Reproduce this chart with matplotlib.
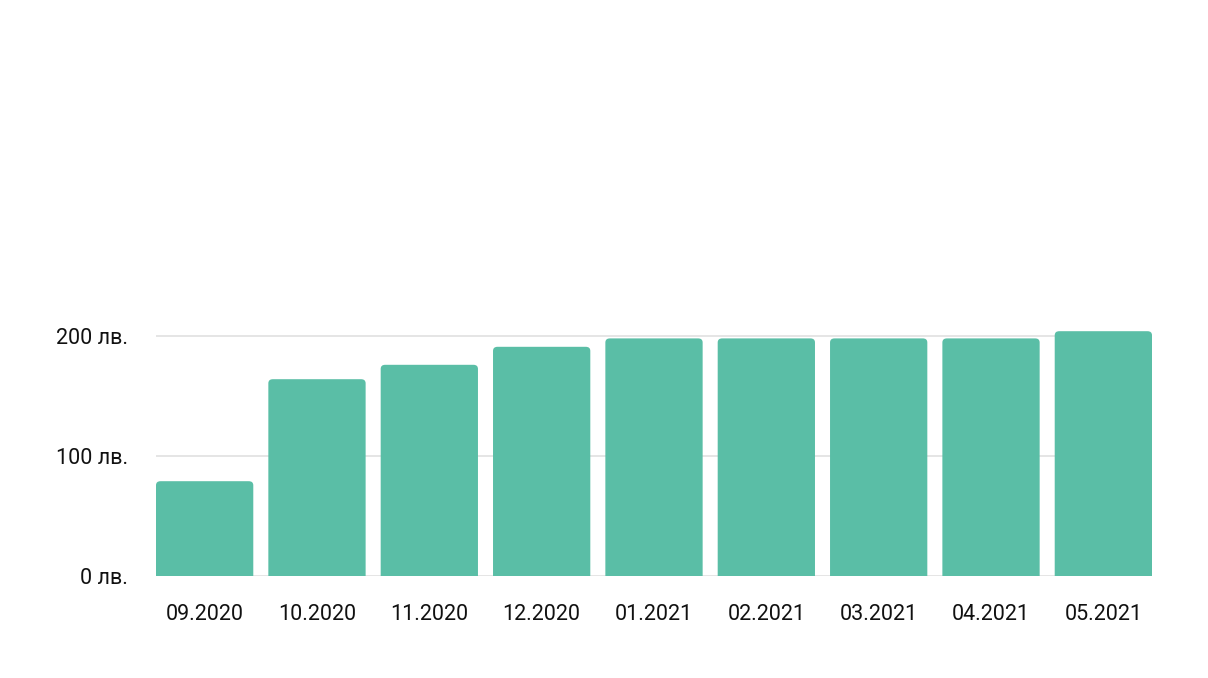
import matplotlib.pyplot as plt
from matplotlib.patches import FancyBboxPatch

# ── данни ──
months = ["09.2020", "10.2020", "11.2020", "12.2020", "01.2021",
          "02.2021", "03.2021", "04.2021", "05.2021"]
values = [79, 164, 176, 191, 198, 198, 198, 198, 204]
yticks = [0, 100, 200]
ytick_labels = ["0 лв.", "100 лв.", "200 лв."]

plt.rcParams['font.family'] = ['Roboto', 'DejaVu Sans']

fig = plt.figure(figsize=(12.08, 6.78), dpi=100)
ax = fig.add_axes([156 / 1208, 1 - 576 / 678, 996 / 1208, 252 / 678])

color = '#5abea6'
width = 0.866
bars = ax.bar(range(len(months)), values, width=width, color=color)

# заоблени горни ъгли
for b in bars:
    x, h = b.get_x(), b.get_height()
    b.set_visible(False)
    p = FancyBboxPatch((x, -6), width, h + 6,
                       boxstyle="round,pad=0,rounding_size=0.04",
                       mutation_aspect=85, facecolor=color, edgecolor='none',
                       clip_on=True, zorder=2)
    ax.add_patch(p)

ax.set_xlim(-width / 2, len(months) - 1 + width / 2)
ax.set_ylim(0, 210)
ax.set_yticks(yticks)
ax.set_yticklabels(ytick_labels)
ax.set_xticks(range(len(months)))
ax.set_xticklabels(months)

ax.grid(axis='y', color='#e0e0e0', linewidth=1.2, zorder=0)
ax.set_axisbelow(True)
for s in ax.spines.values():
    s.set_visible(False)
ax.tick_params(length=0, labelsize=15.5, colors='#111111')
ax.tick_params(axis='y', pad=20)
ax.tick_params(axis='x', pad=20)

fig.savefig("out.png", dpi=100)
